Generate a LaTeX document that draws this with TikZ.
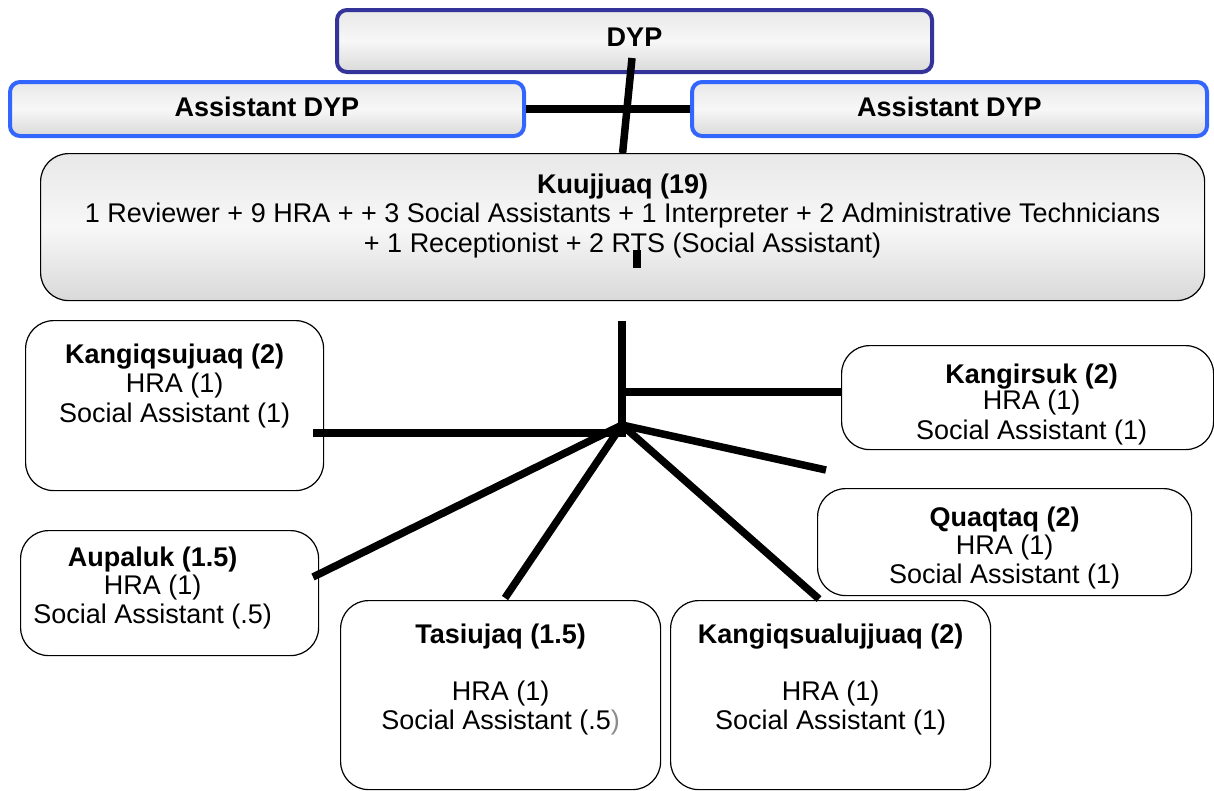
\documentclass[tikz,border=0pt]{standalone}
\usepackage{fontspec}
\setmainfont{Liberation Sans}
\definecolor{dypblue}{RGB}{51,51,153}
\definecolor{asstblue}{RGB}{51,102,255}

\begin{document}
\begin{tikzpicture}[x=1pt,y=-1pt,
    every node/.style={font=\fontsize{27}{29.5}\selectfont},
    org/.style={draw,anchor=north west,inner sep=0pt,rounded corners=28pt,line width=1.2pt,fill=white},
    shaded/.style={top color=black!9,bottom color=black!15,middle color=black!3},
    head/.style={org,shaded,rounded corners=10pt,line width=4pt},
    wire/.style={line width=7.5pt}]
    \useasboundingbox (0,0) rectangle (1214,790);

    \node[head,draw=dypblue] (dyp) at (335,8) {\parbox[c][62pt][t]{595pt}{\centering\vspace*{16pt}\strut\textbf{DYP}}};
    \node[head,draw=asstblue] (asstl) at (8,80) {\parbox[c][54pt][t]{514pt}{\centering\vspace*{14pt}\strut\textbf{Assistant DYP}}};
    \node[head,draw=asstblue] (asstr) at (690,80) {\parbox[c][54pt][t]{515pt}{\centering\vspace*{14pt}\strut\textbf{Assistant DYP}}};
    \node[org,shaded] (kuuj) at (40,153) {\parbox[c][147pt][t]{1164pt}{\centering\vspace*{19pt}\strut\textbf{Kuujjuaq (19)}\\
        1 Reviewer + 9 HRA + + 3 Social Assistants + 1 Interpreter + 2 Administrative Technicians\\
        + 1 Receptionist + 2 RTS (Social Assistant)}};
    \node[org] (kangiq) at (25,320) {\parbox[c][170pt][t]{298pt}{\centering\vspace*{22pt}\strut\textbf{Kangiqsujuaq (2)}\\
        HRA (1)\\ Social Assistant (1)}};
    \node[org] (kangir) at (841,345) {\parbox[c][104pt][t]{372pt}{\centering\vspace*{17pt}\strut\hspace*{8pt}\textbf{Kangirsuk (2)}\\[-3pt]
        \hspace*{8pt}HRA (1)\\ \hspace*{8pt}Social Assistant (1)}};
    \node[org] (quaq) at (817,488) {\parbox[c][107pt][t]{374pt}{\centering\vspace*{17pt}\strut\textbf{Quaqtaq (2)}\\[-1.5pt]
        HRA (1)\\ Social Assistant (1)}};
    \node[org] (aupa) at (20,530) {\parbox[c][125pt][t]{298pt}{\centering\rightskip=34pt plus 1fil\vspace*{15pt}\strut\textbf{Aupaluk (1.5)}\\[-1.5pt]
        HRA (1)\\ Social Assistant (.5)}};
    \node[org] (tasi) at (340,600) {\parbox[c][189pt][t]{320pt}{\centering\vspace*{22pt}\strut\textbf{Tasiujaq (1.5)}\\[27.5pt]
        HRA (1)\\ Social Assistant (.5\textcolor{black!45}{)}}};
    \node[org] (kqj) at (670,600) {\parbox[c][189pt][t]{320pt}{\centering\vspace*{22pt}\strut\textbf{Kangiqsualujjuaq (2)}\\[27.5pt]
        HRA (1)\\ Social Assistant (1)}};

    \coordinate (dyptail) at (632,58);
    \coordinate (ticktop) at (637,250);
    \coordinate (tickbot) at (637,268);
    \coordinate (stemtop) at (622,321);
    \coordinate (stembot) at (622,437);
    \coordinate (hub) at (622,425);
    \coordinate (kbend) at (618,392);
    \coordinate (kqend) at (313,433);
    \coordinate (aupend) at (313,577);
    \coordinate (tasend) at (505,598);
    \coordinate (kqjend) at (819,599);
    \coordinate (loose) at (826,470);

    \draw[wire] (asstl.east) -- (asstr.west);
    \draw[wire] (dyptail) -- (kuuj.north);
    \draw[wire] (ticktop) -- (tickbot);
    \draw[wire] (stemtop) -- (stembot);
    \draw[wire] (kbend) -- (kbend -| kangir.west);
    \draw[wire] (kqend) -- (kqend -| hub);
    \draw[wire] (aupend) -- (hub);
    \draw[wire] (tasend) -- (hub);
    \draw[wire] (kqjend) -- (hub);
    \draw[wire] (loose) -- (hub);
\end{tikzpicture}
\end{document}
